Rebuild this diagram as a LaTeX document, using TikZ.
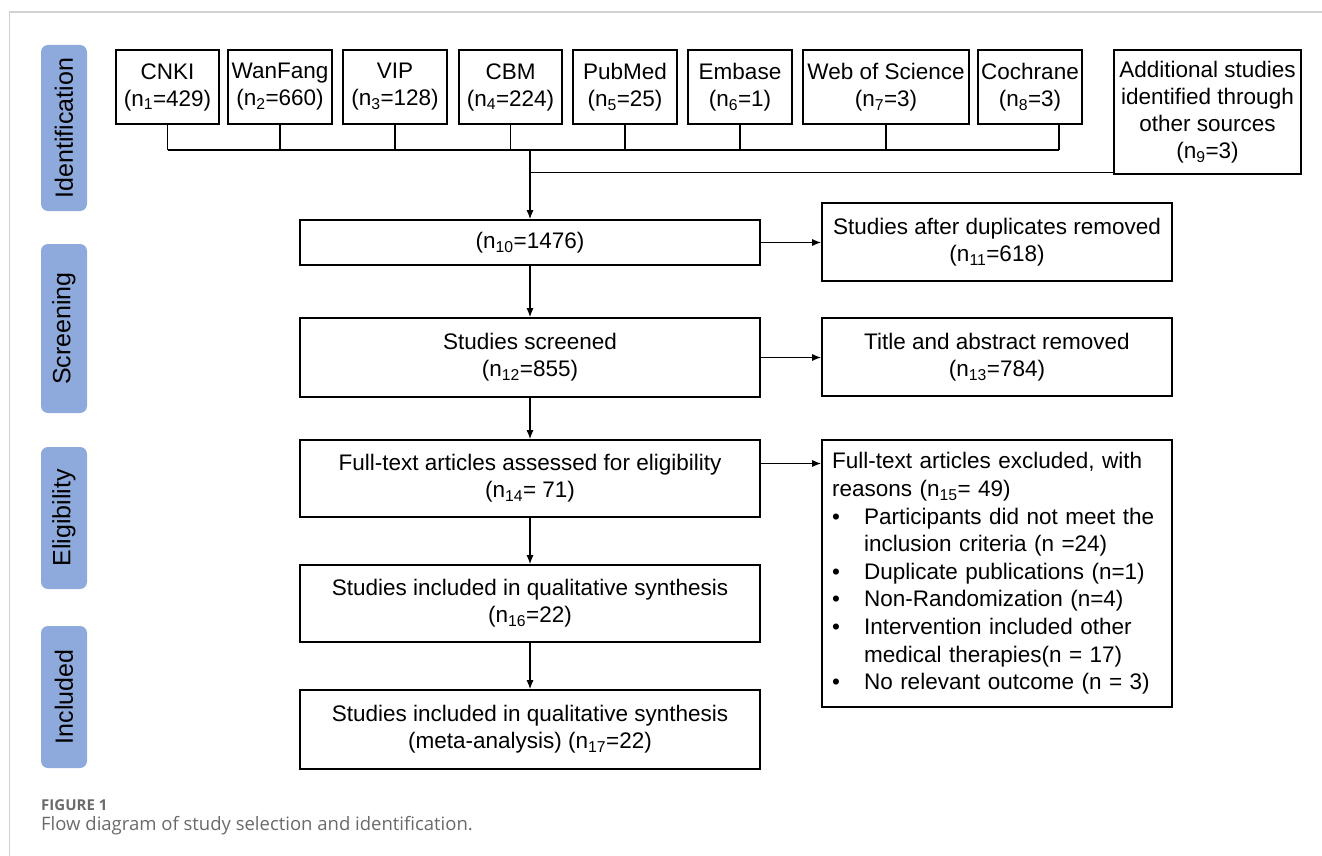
\documentclass[tikz,border=0pt]{standalone}
\usepackage{fontspec}
\setmainfont{Liberation Sans}
\newfontfamily\capfont{Open Sans}
\usetikzlibrary{arrows.meta,positioning,calc}

\definecolor{phaseblue}{HTML}{8EA9DB}
\definecolor{framegray}{HTML}{D2D2D2}
\definecolor{capgray}{HTML}{6A6A6A}

\newcommand{\nsub}[1]{n\textsubscript{#1}}
\newcommand{\bul}{\makebox[32pt][l]{\textbullet}}
\newcommand{\ind}{\hspace*{32pt}}

\tikzset{
  boxfont/.style={font=\fontsize{22.5}{27}\selectfont},
  dbbox/.style={draw, line width=1.6pt, minimum height=74pt, inner sep=1pt, align=center, boxfont},
  mainbox/.style={draw, line width=1.6pt, minimum width=460pt, align=center, boxfont},
  sidebox/.style={draw, line width=1.6pt, minimum width=350pt, align=center, boxfont},
  phase/.style={fill=phaseblue, rounded corners=7pt, rotate=90, minimum height=46pt,
                inner sep=0pt, font=\fontsize{25}{29}\selectfont},
  link/.style={line width=1.2pt},
  arr/.style={link, -{Latex[length=9pt,width=7pt]}},
}

\begin{document}
\begin{tikzpicture}[x=1pt,y=-1pt]

  \useasboundingbox (0,0) rectangle (1322,856);
  \draw[framegray, line width=1.2pt] (9.5,856) -- (9.5,12) -- (1322,12);

  % phases
  \node[phase, minimum width=166pt] (ident) at (64,128)   {Identification};
  \node[phase, minimum width=169pt] (scr)   at (64,328.5) {Screening};
  \node[phase, minimum width=142pt] (elig)  at (64,518)   {Eligibility};
  \node[phase, minimum width=142pt] (incl)  at (64,697)   {Included};

  % databases
  \node[dbbox, minimum width=103pt] (cnki) at (167.5,87) {CNKI\\(\nsub{1}=429)};
  \node[dbbox, minimum width=104pt] (wanf) at (280,87)   {WanFang\\(\nsub{2}=660)};
  \node[dbbox, minimum width=104pt] (vip)  at (395,87)   {VIP\\(\nsub{3}=128)};
  \node[dbbox, minimum width=103pt] (cbm)  at (510.5,87) {CBM\\(\nsub{4}=224)};
  \node[dbbox, minimum width=104pt] (pubm) at (625,87)   {PubMed\\(\nsub{5}=25)};
  \node[dbbox, minimum width=104pt] (emb)  at (740,87)   {Embase\\(\nsub{6}=1)};
  \node[dbbox, minimum width=166pt] (wos)  at (886,87)   {Web of Science\\(\nsub{7}=3)};
  \node[dbbox, minimum width=104pt] (coch) at (1030,87)  {Cochrane\\(\nsub{8}=3)};
  \node[dbbox, minimum width=187pt, minimum height=124pt] (addi) at (1207.5,112)
    {Additional studies\\identified through\\other sources\\(\nsub{9}=3)};

  % flow
  \node[mainbox, minimum height=45pt] (rec)    at (530,242.5) {(\nsub{10}=1476)};
  \node[mainbox, minimum height=79pt] (screen) at (530,357.5) {Studies screened\\(\nsub{12}=855)};
  \node[mainbox, minimum height=77pt] (full)   at (530,478.5) {Full-text articles assessed for eligibility\\(\nsub{14}= 71)};
  \node[mainbox, minimum height=77pt] (qual)   at (530,603.5) {Studies included in qualitative synthesis\\(\nsub{16}=22)};
  \node[mainbox, minimum height=79pt] (meta)   at (530,729.5) {Studies included in qualitative synthesis\\(meta-analysis) (\nsub{17}=22)};

  \node[sidebox, minimum height=78pt] (dupl)  at (997,242)  {Studies after duplicates removed\\(\nsub{11}=618)};
  \node[sidebox, minimum height=78pt] (title) at (997,357)  {Title and abstract removed\\(\nsub{13}=784)};
  \node[draw, line width=1.6pt, minimum height=267pt, text width=330pt,
        inner xsep=10pt, align=left, font=\fontsize{22.5}{27.6}\selectfont] (excl) at (997,573.5)
    {Full-text articles excluded, with\\reasons (\nsub{15}= 49)\\
     \bul Participants did not meet the\\\ind inclusion criteria (n =24)\\
     \bul Duplicate publications (n=1)\\
     \bul Non-Randomization (n=4)\\
     \bul Intervention included other\\\ind medical therapies(n = 17)\\
     \bul No relevant outcome (n = 3)};

  % collecting lines
  \coordinate (bus)  at (530,150);
  \coordinate (cochs) at ([xshift=29pt]coch.south);
  \draw[link] (cnki.south) -- (cnki.south |- bus);
  \draw[link] (wanf.south) -- (wanf.south |- bus);
  \draw[link] (vip.south)  -- (vip.south |- bus);
  \draw[link] (cbm.south)  -- (cbm.south |- bus);
  \draw[link] (pubm.south) -- (pubm.south |- bus);
  \draw[link] (emb.south)  -- (emb.south |- bus);
  \draw[link] (wos.south)  -- (wos.south |- bus);
  \draw[link] (cochs) -- (cochs |- bus);
  \draw[link] (cnki.south |- bus) -- (cochs |- bus);
  \coordinate (addin) at ([yshift=2pt]addi.south west);
  \draw[link] (addin) -- (addin -| bus);
  \draw[arr] (bus) -- (rec.north);

  \draw[arr] (rec) -- (screen);
  \draw[arr] (screen) -- (full);
  \draw[arr] (full) -- (qual);
  \draw[arr] (qual) -- (meta);
  \draw[arr] (rec.east) -- (rec.east -| dupl.west);
  \draw[arr] (screen.east) -- (screen.east -| title.west);
  \draw[arr] ([yshift=15pt]full.east) -- ([yshift=15pt]full.east -| excl.west);

  % caption
  \node[anchor=base west, inner sep=0pt, text=capgray, font=\capfont\bfseries\fontsize{15}{18}\selectfont]
    (fig) at (41,810) {FIGURE 1};
  \node[anchor=base west, inner sep=0pt, text=capgray, font=\capfont\fontsize{18.5}{22}\selectfont]
    (cap) at (41,830) {Flow diagram of study selection and identification.};

\end{tikzpicture}
\end{document}
